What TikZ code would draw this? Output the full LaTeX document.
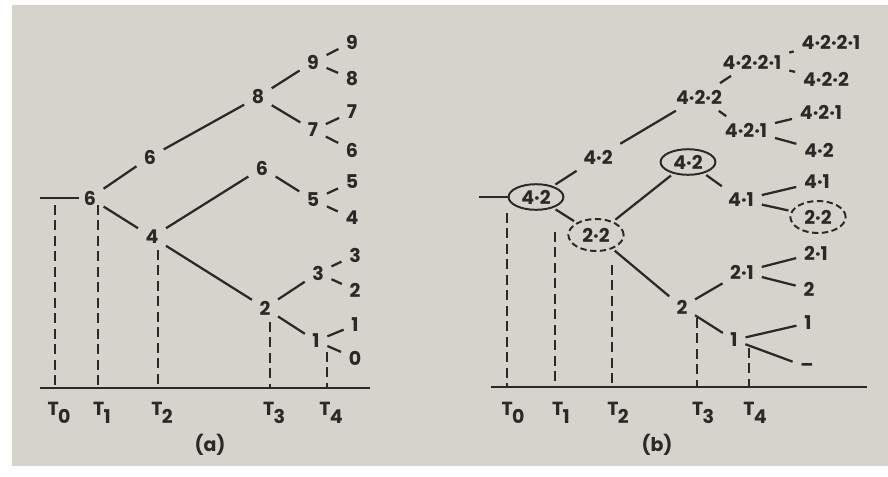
\documentclass[tikz,border=0pt]{standalone}
\usepackage{fontspec}
\setmainfont{Poppins}
\usetikzlibrary{shapes.geometric}
\definecolor{pgray}{HTML}{D6D3CD}
\definecolor{ink}{HTML}{2A2927}
\newcommand\tsub[1]{T\kern-0.5pt\raisebox{-0.7ex}{#1}}

\begin{document}
\begin{tikzpicture}[
  x=0.025cm,y=-0.025cm,
  every node/.style={font=\fontsize{13.5}{16}\selectfont\bfseries,text=ink},
  N/.style={inner sep=3.5pt},
  E/.style={ellipse,draw=ink,line width=1.4pt,inner sep=0pt,
            minimum width=1.37cm,minimum height=0.64cm},
  ED/.style={E,dash pattern=on 4.5pt off 2.5pt,
             minimum width=1.38cm,minimum height=0.8cm},
  ln/.style={draw=ink,line width=1.6pt,shorten <=2pt,shorten >=2pt},
  dl/.style={draw=ink,line width=1.5pt,dash pattern=on 7pt off 4pt},
  ax/.style={draw=ink,line width=1.6pt}
]
\useasboundingbox (0,0) rectangle (888,476);
\fill[pgray] (12,5) rectangle (888,466);

% ---- (a)
\node[N](a6)  at (90,198){6};
\node[N](a6u) at (150,157){6};
\node[N](a4)  at (152,237){4};
\node[N](a8)  at (258,97){8};
\node[N](a6m) at (262,168){6};
\node[N](a2)  at (265,308){2};
\node[N](a9)  at (313,62){9};
\node[N](a7)  at (313,130){7};
\node[N](a5)  at (313,200){5};
\node[N](a3)  at (318,273){3};
\node[N](a1)  at (316,341){1};
\node[N](l9) at (352,42){9};
\node[N](l8) at (352,79){8};
\node[N](l7) at (352,112){7};
\node[N](l6) at (352,150){6};
\node[N](l5) at (352,182){5};
\node[N](l4) at (352,218){4};
\node[N](l3) at (355,255){3};
\node[N](l2) at (355,290){2};
\node[N](l1) at (355,325){1};
\node[N](l0) at (355,358){0};

\coordinate (as) at (40,198);
\draw[ax] (as) -- (a6);
\foreach \s/\t in {a6/a6u,a6/a4,a6u/a8,a4/a6m,a4/a2,a8/a9,a8/a7,a6m/a5,
                   a2/a3,a2/a1,a9/l9,a9/l8,a7/l7,a7/l6,a5/l5,a5/l4,
                   a3/l3,a3/l2,a1/l1,a1/l0}
  \draw[ln](\s)--(\t);

\coordinate (aL) at (40,388);
\coordinate (aR) at (370,388);
\draw[ax] (aL) -- (aR);
\foreach \x/\y/\i in {55/205/0,98/205/1,158/250/2,270/322/3,327/352/4}{
  \coordinate (at\i) at (\x,\y);
  \draw[dl] (at\i) -- (at\i |- aL);
  \node[N] at (\x+4,413){\tsub{\i}};
}
\node (capa) at (210,445){(a)};

% ---- (b)
\node[E](b42)   at (536,197){4·2};
\node[N](b42u)  at (598,157){4·2};
\node[ED](b22)  at (596,235){2·2};
\node[N](b422)  at (699,97){4·2·2};
\node[E](b42c)  at (688,162){4·2};
\node[N](b4221) at (752,62){4·2·2·1};
\node[N](b421)  at (746,130){4·2·1};
\node[N](b41)   at (741,200){4·1};
\node[N](b2)    at (682,307){2};
\node[N](b21)   at (742,272){2·1};
\node[N](b1)    at (734,340){1};
\node[N](m4221) at (831,42){4·2·2·1};
\node[N](m422)  at (826,79){4·2·2};
\node[N](m421)  at (821,112){4·2·1};
\node[N](m42)   at (819,150){4·2};
\node[N](m41)   at (817,182){4·1};
\node[ED](m22)  at (818,217){2·2};
\node[N](m21)   at (816,253){2·1};
\node[N](m2)    at (809,289){2};
\node[N](m1)    at (808,323){1};
\node[N](mdash) at (807,367){–};

\coordinate (bs) at (479,197);
\draw[ax] (bs) -- (b42);
\foreach \s/\t in {b42/b42u,b42/b22,b42u/b422,b22/b42c,b22/b2,b422/b4221,
                   b422/b421,b42c/b41,b4221/m4221,b4221/m422,b421/m421,
                   b421/m42,b41/m41,b41/m22,b2/b21,b2/b1,b21/m21,b21/m2,
                   b1/m1,b1/mdash}
  \draw[ln](\s)--(\t);

\coordinate (bL) at (491,387);
\coordinate (bR) at (867,387);
\draw[ax] (bL) -- (bR);
\foreach \x/\y/\i in {507/213/0,555/232/1,612/265/2,697/318/3,749/348/4}{
  \coordinate (bt\i) at (\x,\y);
  \draw[dl] (bt\i) -- (bt\i |- bL);
  \node[N] at (\x+6,413){\tsub{\i}};
}
\node (capb) at (657,445){(b)};
\end{tikzpicture}
\end{document}
